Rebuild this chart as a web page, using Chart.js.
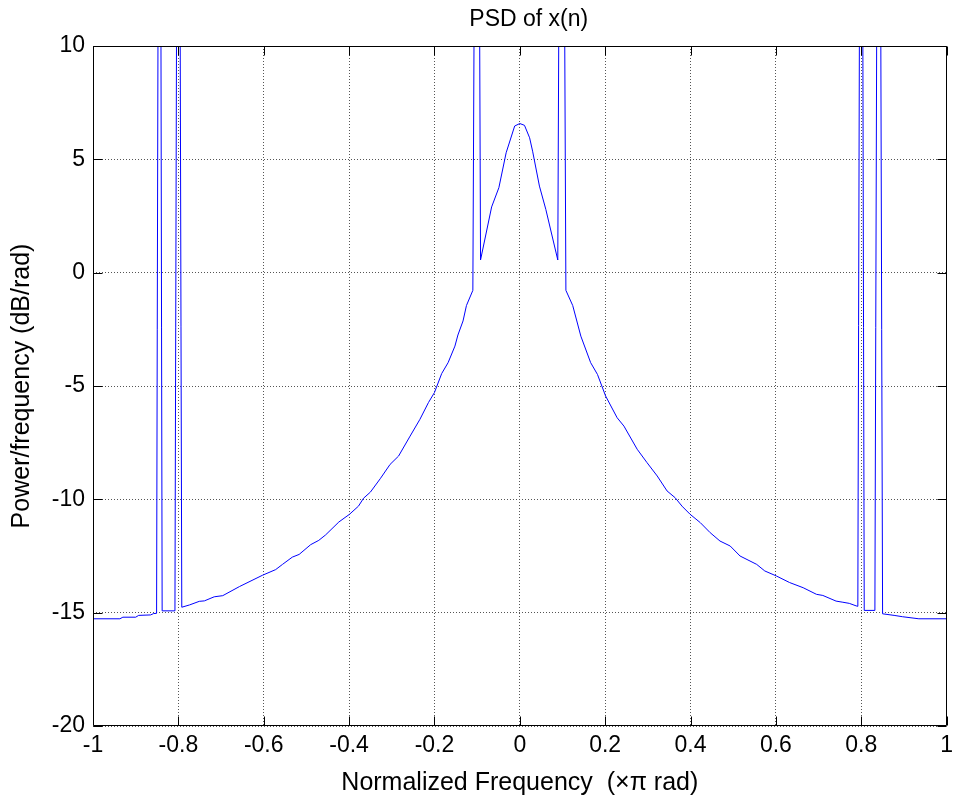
<!DOCTYPE html>
<html>
<head>
<meta charset="utf-8">
<script src="https://cdn.jsdelivr.net/npm/chart.js@4.4.1/dist/chart.umd.min.js"></script>
<style>
  html, body { margin: 0; padding: 0; background: #fff; }
  canvas { display: block; }
</style>
</head>
<body>
<canvas id="psdChart" width="959" height="800"></canvas>
<script>
// Normalized frequency (x pi rad) and PSD (dB/rad)
const freq = [
  -1.000, -0.937, -0.930, -0.900, -0.893, -0.865, -0.858, -0.851, -0.844, -0.838,
  -0.808, -0.800, -0.792, -0.774, -0.751, -0.739, -0.716, -0.696, -0.657, -0.603,
  -0.572, -0.556, -0.533, -0.517, -0.490, -0.471, -0.455, -0.424, -0.399, -0.378,
  -0.366, -0.350, -0.327, -0.304, -0.284, -0.257, -0.234, -0.214, -0.200, -0.183,
  -0.168, -0.152, -0.145, -0.133, -0.125, -0.110, -0.100, -0.092, -0.066, -0.049,
  -0.032, -0.012, 0.000, 0.011, 0.023, 0.030, 0.046, 0.061, 0.089, 0.098,
  0.108, 0.124, 0.143, 0.166, 0.182, 0.201, 0.228, 0.244, 0.275, 0.298,
  0.322, 0.345, 0.364, 0.380, 0.399, 0.423, 0.446, 0.469, 0.493, 0.516,
  0.555, 0.574, 0.601, 0.632, 0.664, 0.695, 0.710, 0.741, 0.757, 0.772,
  0.788, 0.792, 0.800, 0.807, 0.832, 0.841, 0.850, 0.877, 0.897, 0.935,
  1.000
];
const power = [
  -15.27, -15.27, -15.20, -15.20, -15.12, -15.10, -15.04, -15.03, 40, -14.92,
  -14.92, 40, -14.76, -14.66, -14.50, -14.48, -14.30, -14.25, -13.85, -13.35,
  -13.10, -12.87, -12.55, -12.43, -12.00, -11.81, -11.57, -11.00, -10.66, -10.30,
  -9.95, -9.68, -9.09, -8.46, -8.09, -7.21, -6.47, -5.73, -5.29, -4.45,
  -3.97, -3.24, -2.75, -2.13, -1.45, -0.78, 40, 0.56, 2.90, 3.75,
  5.29, 6.47, 6.58, 6.50, 5.95, 5.36, 3.82, 2.79, 0.56, 40,
  -0.78, -1.45, -2.80, -3.97, -4.49, -5.44, -6.40, -6.77, -7.79, -8.38,
  -8.97, -9.63, -9.93, -10.30, -10.66, -11.03, -11.47, -11.84, -12.06, -12.50,
  -12.87, -13.16, -13.38, -13.67, -13.90, -14.19, -14.24, -14.49, -14.54, -14.59,
  -14.70, -14.72, 40, -14.90, -14.90, 40, -15.05, -15.12, -15.18, -15.27,
  -15.27
];
const xTicks = [-1, -0.8, -0.6, -0.4, -0.2, 0, 0.2, 0.4, 0.6, 0.8, 1];
const yTicks = [-20, -15, -10, -5, 0, 5, 10];
const titleText = 'PSD of x(n)';

const FONT = "'Liberation Sans', Arial, sans-serif";

// MATLAB-style closed box with inward tick marks, title centred over the axes
const axesBox = {
  id: 'axesBox',
  afterDraw(chart) {
    const { ctx, chartArea: a, scales: { x, y } } = chart;
    const L = Math.round(a.left) + 0.5, R = Math.round(a.right) - 0.5;
    const T = Math.round(a.top) + 0.5, B = Math.round(a.bottom) - 0.5;
    const len = 9;
    ctx.save();
    ctx.strokeStyle = '#000';
    ctx.lineWidth = 1;
    ctx.beginPath();
    ctx.rect(L, T, R - L, B - T);
    x.ticks.forEach(t => {
      const px = Math.round(x.getPixelForValue(t.value)) + 0.5;
      ctx.moveTo(px, B); ctx.lineTo(px, B - len);
      ctx.moveTo(px, T); ctx.lineTo(px, T + len);
    });
    y.ticks.forEach(t => {
      const py = Math.round(y.getPixelForValue(t.value)) + 0.5;
      ctx.moveTo(L, py); ctx.lineTo(L + len, py);
      ctx.moveTo(R, py); ctx.lineTo(R - len, py);
    });
    ctx.stroke();

    ctx.fillStyle = '#000';
    ctx.font = '23px ' + FONT;
    ctx.textAlign = 'center';
    ctx.textBaseline = 'middle';
    ctx.fillText(titleText, (a.left + a.right) / 2 + 9, 20);
    ctx.restore();
  }
};

const ctx = document.getElementById('psdChart').getContext('2d');
new Chart(ctx, {
  type: 'line',
  data: {
    datasets: [{
      data: freq.map((f, i) => ({ x: f, y: power[i] })),
      borderColor: '#0000ff',
      borderWidth: 1,
      pointRadius: 0,
      tension: 0,
      fill: false
    }]
  },
  options: {
    responsive: false,
    animation: false,
    layout: { padding: { left: 0, right: 8, top: 46, bottom: 0 } },
    plugins: {
      legend: { display: false },
      tooltip: { enabled: false },
      title: { display: false }
    },
    scales: {
      x: {
        type: 'linear',
        min: -1, max: 1,
        afterBuildTicks: s => { s.ticks = xTicks.map(v => ({ value: v })); },
        afterFit: s => { s.height = 74; },
        ticks: {
          color: '#000',
          padding: 6,
          maxRotation: 0,
          font: { family: FONT, size: 23 },
          callback: v => String(v)
        },
        grid: { color: '#555', drawTicks: false },
        border: { display: false, dash: [1, 2] },
        title: {
          display: true,
          text: 'Normalized Frequency  (\u00d7\u03c0 rad)',
          color: '#000',
          font: { family: FONT, size: 25 },
          padding: { top: 0, bottom: 2 }
        }
      },
      y: {
        type: 'linear',
        min: -20, max: 10,
        afterBuildTicks: s => { s.ticks = yTicks.map(v => ({ value: v })); },
        afterFit: s => { s.width = 93; },
        ticks: {
          color: '#000',
          padding: 8,
          font: { family: FONT, size: 23 },
          callback: v => String(v)
        },
        grid: { color: '#555', drawTicks: false },
        border: { display: false, dash: [1, 2] },
        title: {
          display: true,
          text: 'Power/frequency (dB/rad)',
          color: '#000',
          font: { family: FONT, size: 25 },
          padding: { top: 7, bottom: 0 }
        }
      }
    }
  },
  plugins: [axesBox]
});
</script>
</body>
</html>
